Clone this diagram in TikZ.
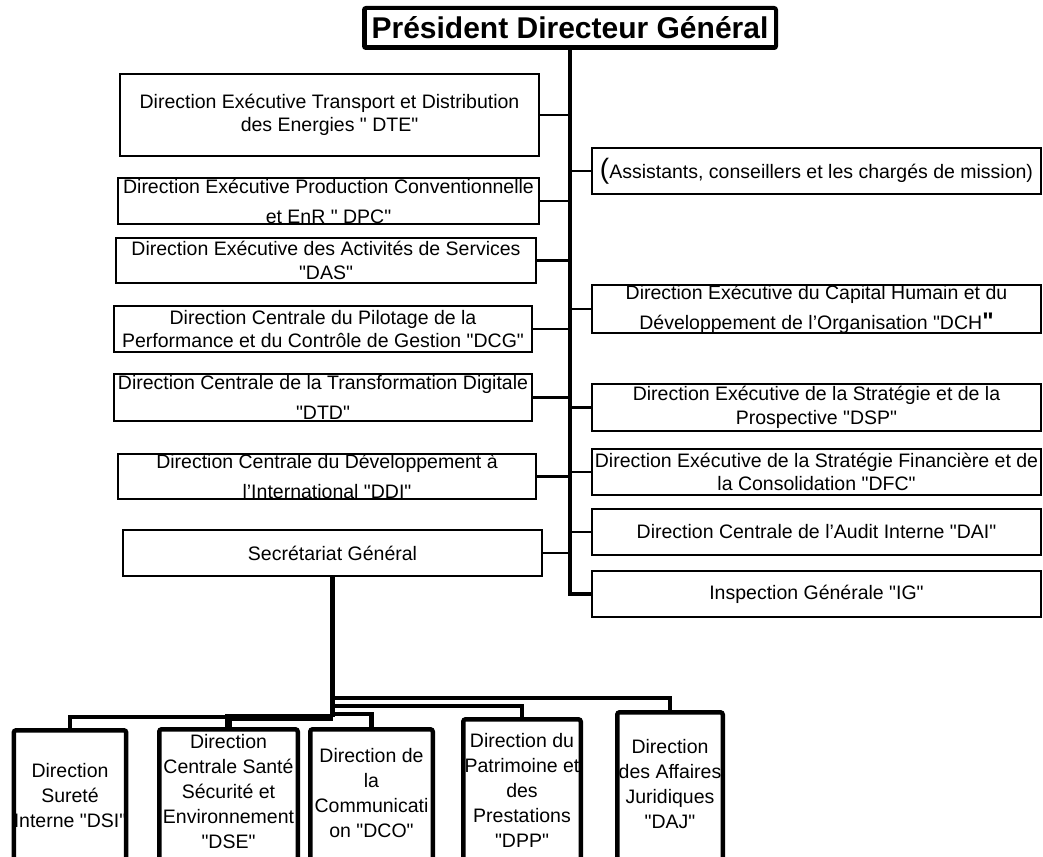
\documentclass[tikz,border=0pt]{standalone}
\usepackage{fontspec}
\newfontfamily\arial{Liberation Sans}
\usepackage{tikz}
\usetikzlibrary{positioning}

\begin{document}
\begin{tikzpicture}[x=1pt, y=-1pt,
    box/.style={draw, line width=2pt, align=center, inner xsep=0pt, inner ysep=0pt, font=\arial\fontsize{19.5}{23.5}\selectfont},
    lbox/.style={box, minimum width=419pt, minimum height=46pt},
    rbox/.style={box, minimum width=449pt, minimum height=46pt},
    loose/.style={font=\arial\fontsize{19.5}{30}\selectfont},
    link/.style={line width=2.5pt},
    low/.style={draw, line width=4.5pt, rounded corners=2.5pt, anchor=north, align=center, inner xsep=0pt, font=\arial\fontsize{19.5}{25}\selectfont, execute at end node={\rule[-130pt]{0pt}{0pt}}},
    lowlink/.style={line width=4.5pt}]
  \useasboundingbox (0,0) rectangle (1043,856);
  \clip (0,0) rectangle (1043,856);

  % top
  \node[draw, line width=4pt, rounded corners=2pt, minimum width=412pt, minimum height=40pt, inner sep=0pt, font=\arial\bfseries\fontsize{30}{30}\selectfont] (pdg) at (570,28) {Président Directeur Général};
  \draw[line width=1pt] ([xshift=4pt,yshift=4pt]pdg.south west) rectangle ([xshift=-4pt,yshift=-4pt]pdg.north east);

  % left column
  \node[lbox, minimum height=82pt] (dte) at (329.5,115) {Direction Exécutive Transport et Distribution\\des Energies " DTE"};
  \node[lbox, loose, minimum width=421pt] (dpc) at (328.5,201) {Direction Exécutive Production Conventionnelle\\et EnR " DPC"};
  \node[lbox, minimum width=420pt, minimum height=45pt] (das) at (326,260.5) {Direction Exécutive des Activités de Services\\"DAS"};
  \node[lbox, minimum width=418pt] (dcg) at (323,329) {Direction Centrale du Pilotage de la\\Performance et du Contrôle de Gestion "DCG"};
  \node[lbox, loose, minimum width=418pt, minimum height=47pt] (dtd) at (323,397.5) {Direction Centrale de la Transformation Digitale\\"DTD"};
  \node[lbox, loose, minimum width=418pt, minimum height=45pt] (ddi) at (327,476.5) {Direction Centrale du Développement à\\l’International "DDI"};
  \node[lbox] (sg) at (332.5,553) {Secrétariat Général};

  % right column
  \node[rbox] (ass) at (816.5,171) {{\fontsize{28}{28}\selectfont(}Assistants, conseillers et les chargés de mission)};
  \node[rbox, loose] (dch) at (816.5,309) {Direction Exécutive du Capital Humain et du\\Développement de l’Organisation "DCH{\bfseries\fontsize{24}{24}\selectfont"}};
  \node[rbox, minimum height=47pt] (dsp) at (816.5,407.5) {Direction Exécutive de la Stratégie et de la\\Prospective "DSP"};
  \node[rbox] (dfc) at (816.5,472) {Direction Exécutive de la Stratégie Financière et de\\la Consolidation "DFC"};
  \node[rbox] (dai) at (816.5,532) {Direction Centrale de l’Audit Interne "DAI"};
  \node[rbox] (ig) at (816.5,594) {Inspection Générale "IG"};

  \draw[line width=3.5pt] (pdg.south) |- (ig.west);
  \foreach \n in {dte,dpc,das,dcg,dtd,ddi,sg}
    \draw[link] (\n.east) -- (\n.east -| pdg.south);
  \foreach \n in {ass,dch,dsp,dfc,dai}
    \draw[link] (\n.west -| pdg.south) -- (\n.west);

  % under the secretariat
  \node[low, minimum width=111.5pt, inner ysep=32.75pt] (dsi) at (70,728) {Direction\\Sureté\\Interne "DSI"};
  \node[low, minimum width=138.5pt, inner ysep=4.75pt] (dse) at (228.5,727) {Direction\\Centrale Santé\\Sécurité et\\Environnement\\"DSE"};
  \node[low, minimum width=122.5pt, inner ysep=18.75pt] (dco) at (371.5,727) {Direction de\\la\\Communicati\\on "DCO"};
  \node[low, minimum width=117.5pt, inner ysep=13.75pt] (dpp) at (522,717) {Direction du\\Patrimoine et\\des\\Prestations\\"DPP"};
  \node[low, minimum width=105.5pt, inner ysep=26.75pt] (daj) at (670,710) {Direction\\des Affaires\\Juridiques\\"DAJ"};

  \path (sg.south) ++(0,140) coordinate (hub);
  \draw[line width=5pt] (sg.south) -- (hub);
  \draw[lowlink] (hub) -| (dsi.north);
  \draw[lowlink, line width=7pt] (hub) -| (dse.north);
  \draw[lowlink] ([yshift=3pt]hub) -| (dco.north);
  \draw[lowlink] ([yshift=11pt]hub) -| (dpp.north);
  \draw[lowlink] ([yshift=19pt]hub) -| (daj.north);
\end{tikzpicture}
\end{document}
